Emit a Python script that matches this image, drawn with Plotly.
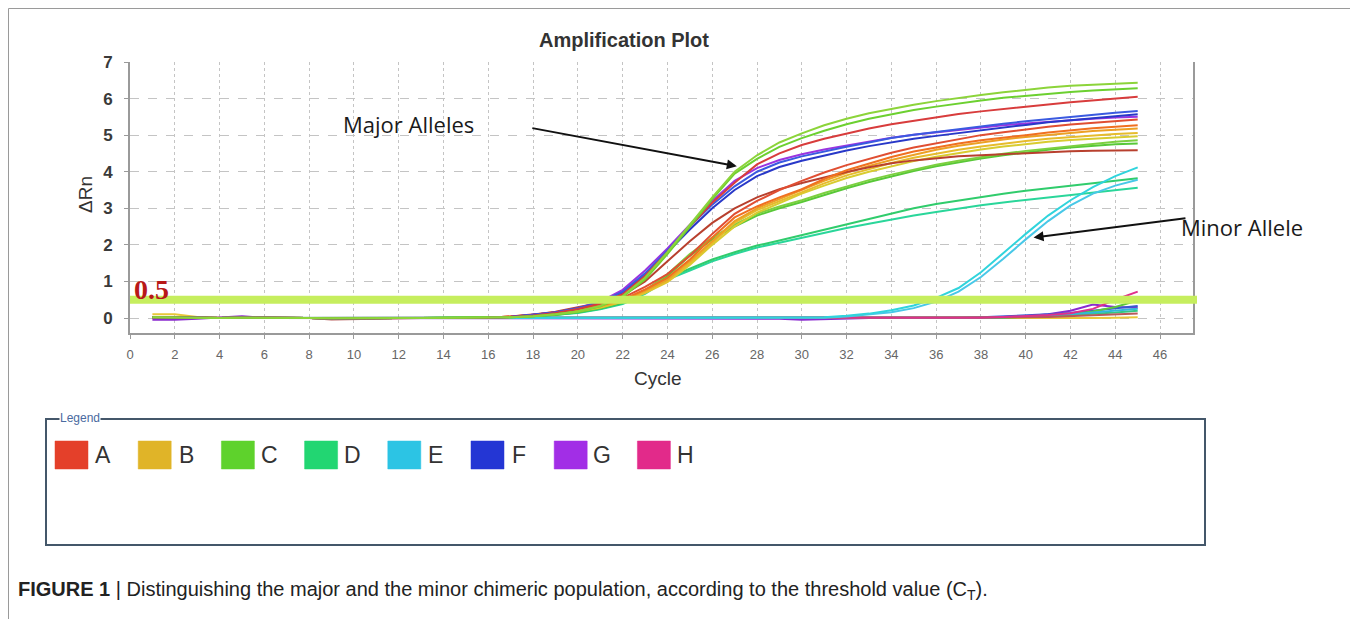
import plotly.graph_objects as go

# ---------------- data ----------------
CYCLES = list(range(1, 46))
THRESHOLD = 0.5
X_TICKS = list(range(0, 48, 2))
Y_TICKS = [0, 1, 2, 3, 4, 5, 6, 7]
ROWS = ["A", "B", "C", "D", "E", "F", "G", "H"]
ROW_COLORS = ["#e4402a", "#e0b428", "#5ed22c", "#22d672", "#2cc4e4", "#2436d4", "#a22ee6", "#e22a8a"]

BASE16 = [0.02, 0.01, 0.0, 0.0, 0.01, 0.0, 0.0, 0.0, -0.01, 0.0, 0.0, 0.0, 0.0, 0.0, 0.0, 0.01]

A_TOP = BASE16 + [0.03, 0.07, 0.14, 0.25, 0.4, 0.65, 1.15, 1.8, 2.5, 3.15, 3.7, 4.2, 4.5, 4.73, 4.9,
                  5.05, 5.18, 5.3, 5.4, 5.5, 5.58, 5.65, 5.72, 5.78, 5.84, 5.9, 5.95, 6.0, 6.05]
A_MID = BASE16 + [0.04, 0.09, 0.16, 0.26, 0.38, 0.55, 0.85, 1.2, 1.7, 2.3, 2.85, 3.2, 3.5, 3.75, 3.98,
                  4.18, 4.36, 4.52, 4.66, 4.78, 4.9, 5.0, 5.08, 5.16, 5.23, 5.29, 5.34, 5.39, 5.43]
A_ORANGE = BASE16 + [0.04, 0.08, 0.15, 0.24, 0.35, 0.5, 0.78, 1.1, 1.6, 2.2, 2.75, 3.05, 3.3, 3.52, 3.8,
                     4.04, 4.23, 4.4, 4.55, 4.67, 4.77, 4.86, 4.94, 5.0, 5.07, 5.14, 5.19, 5.23, 5.27]
A_LOW = BASE16 + [0.04, 0.09, 0.17, 0.3, 0.42, 0.62, 1.0, 1.55, 2.1, 2.6, 3.0, 3.3, 3.52, 3.69, 3.85,
                  3.99, 4.12, 4.23, 4.31, 4.37, 4.42, 4.45, 4.48, 4.51, 4.54, 4.56, 4.57, 4.58, 4.59]
B_1 = BASE16 + [0.03, 0.07, 0.13, 0.22, 0.33, 0.48, 0.75, 1.05, 1.55, 2.1, 2.65, 3.0, 3.25, 3.5, 3.75,
                3.97, 4.16, 4.32, 4.47, 4.6, 4.71, 4.8, 4.88, 4.95, 5.01, 5.07, 5.11, 5.15, 5.18]
B_2 = BASE16 + [0.03, 0.06, 0.12, 0.2, 0.3, 0.45, 0.7, 1.0, 1.5, 2.05, 2.6, 2.95, 3.2, 3.45, 3.68,
                3.9, 4.08, 4.24, 4.38, 4.5, 4.6, 4.69, 4.77, 4.84, 4.9, 4.95, 4.99, 5.03, 5.06]
B_3 = BASE16 + [0.03, 0.06, 0.11, 0.19, 0.29, 0.44, 0.68, 0.98, 1.45, 2.0, 2.5, 2.88, 3.15, 3.4, 3.62,
                3.83, 4.0, 4.15, 4.29, 4.41, 4.52, 4.61, 4.69, 4.76, 4.82, 4.87, 4.91, 4.94, 4.97]
C_TOP1 = BASE16 + [0.02, 0.05, 0.1, 0.18, 0.33, 0.6, 1.1, 1.8, 2.55, 3.3, 4.0, 4.45, 4.8, 5.05, 5.27,
                   5.45, 5.6, 5.72, 5.83, 5.93, 6.02, 6.1, 6.17, 6.24, 6.3, 6.35, 6.38, 6.41, 6.43]
C_TOP2 = BASE16 + [0.02, 0.05, 0.1, 0.18, 0.32, 0.58, 1.05, 1.75, 2.5, 3.25, 3.95, 4.35, 4.68, 4.92, 5.12,
                   5.3, 5.45, 5.58, 5.69, 5.78, 5.87, 5.95, 6.02, 6.08, 6.13, 6.18, 6.22, 6.26, 6.28]
C_LOW1 = BASE16 + [0.02, 0.05, 0.1, 0.17, 0.28, 0.45, 0.75, 1.2, 1.75, 2.2, 2.55, 2.85, 3.05, 3.22, 3.42,
                   3.6, 3.77, 3.92, 4.06, 4.19, 4.3, 4.4, 4.49, 4.57, 4.64, 4.7, 4.76, 4.82, 4.86]
C_LOW2 = BASE16 + [0.02, 0.05, 0.09, 0.16, 0.27, 0.43, 0.72, 1.15, 1.7, 2.15, 2.5, 2.8, 3.0, 3.17, 3.37,
                   3.55, 3.72, 3.88, 4.02, 4.15, 4.26, 4.36, 4.45, 4.53, 4.6, 4.66, 4.71, 4.75, 4.77]
D_1 = BASE16 + [0.02, 0.04, 0.08, 0.15, 0.25, 0.4, 0.7, 1.1, 1.35, 1.6, 1.8, 1.98, 2.12, 2.27, 2.42,
                2.57, 2.72, 2.87, 3.0, 3.12, 3.22, 3.31, 3.4, 3.48, 3.55, 3.62, 3.69, 3.76, 3.82]
D_2 = BASE16 + [0.02, 0.04, 0.08, 0.14, 0.24, 0.38, 0.66, 1.05, 1.3, 1.55, 1.75, 1.93, 2.06, 2.2, 2.33,
                2.46, 2.58, 2.7, 2.8, 2.9, 3.0, 3.08, 3.16, 3.23, 3.3, 3.37, 3.43, 3.5, 3.56]
E_1 = BASE16 + [0.0, 0.0, 0.0, 0.0, 0.0, 0.0, 0.0, 0.0, 0.0, 0.0, 0.0, 0.0, 0.0, 0.0,
                0.02, 0.06, 0.12, 0.21, 0.34, 0.55, 0.82, 1.25, 1.78, 2.3, 2.8, 3.22, 3.58, 3.88, 4.12]
E_2 = BASE16 + [0.0, 0.0, 0.0, 0.0, 0.0, 0.0, 0.0, 0.0, 0.0, 0.0, 0.0, 0.0, 0.0, 0.0,
                0.01, 0.04, 0.09, 0.16, 0.27, 0.45, 0.72, 1.12, 1.62, 2.15, 2.65, 3.08, 3.4, 3.62, 3.78]
F_1 = BASE16 + [0.03, 0.08, 0.15, 0.27, 0.43, 0.72, 1.22, 1.85, 2.5, 3.1, 3.6, 4.0, 4.25, 4.42, 4.56,
                4.68, 4.8, 4.92, 5.01, 5.09, 5.17, 5.25, 5.31, 5.38, 5.44, 5.5, 5.56, 5.61, 5.66]
F_2 = BASE16 + [0.03, 0.08, 0.15, 0.26, 0.42, 0.7, 1.18, 1.8, 2.42, 3.0, 3.5, 3.88, 4.13, 4.3, 4.45,
                4.58, 4.7, 4.81, 4.9, 4.98, 5.06, 5.14, 5.21, 5.28, 5.35, 5.41, 5.47, 5.52, 5.57]
G_1 = BASE16 + [0.03, 0.08, 0.15, 0.27, 0.45, 0.77, 1.3, 1.9, 2.55, 3.2, 3.75, 4.1, 4.32, 4.48, 4.61,
                4.72, 4.83, 4.93, 5.01, 5.08, 5.15, 5.21, 5.27, 5.32, 5.37, 5.41, 5.45, 5.48, 5.5]

# near-baseline (negative / late) wells
H_1 = [0.0, 0.0, 0.01, 0.0, 0.0, 0.0, 0.0, 0.0, 0.0, 0.0, 0.0, 0.0, 0.0, 0.0, 0.0,
       0.0, 0.0, 0.0, 0.0, 0.0, 0.0, 0.0, 0.0, 0.0, 0.0, 0.0, 0.0, 0.0, 0.0, 0.0,
       0.0, 0.0, 0.0, 0.0, 0.0, 0.0, 0.0, 0.01, 0.03, 0.05, 0.08, 0.13, 0.25, 0.5, 0.72]
B_FLAT = [0.1, 0.1, 0.03, 0.01, 0.0, 0.0, 0.0, 0.0, -0.02, 0.0, 0.0, 0.0, 0.0, 0.0, 0.0,
          0.0, 0.0, 0.0, 0.0, 0.0, 0.0, 0.0, 0.0, 0.0, 0.0, 0.0, 0.0, 0.0, 0.0, 0.0,
          0.0, 0.0, 0.0, 0.0, 0.0, 0.0, 0.0, 0.0, 0.0, 0.0, 0.0, 0.0, 0.0, 0.01, 0.02]
D_FLAT = [0.0, 0.0, 0.0, 0.0, 0.0, 0.0, 0.0, 0.0, 0.0, 0.0, -0.01, -0.01, -0.01, -0.01, -0.01,
          -0.01, -0.01, -0.01, -0.01, -0.01, -0.01, -0.01, -0.01, -0.01, -0.01, -0.01, -0.01, -0.01, -0.01, -0.01,
          0.0, 0.0, 0.0, 0.0, 0.0, 0.0, 0.0, 0.01, 0.02, 0.03, 0.05, 0.08, 0.11, 0.15, 0.2]
G_FLAT = [-0.05, -0.05, -0.02, 0.02, 0.05, 0.0, 0.0, 0.0, 0.0, 0.0, -0.02, -0.02, 0.0, 0.0, 0.0,
          0.0, 0.0, 0.0, 0.0, 0.0, 0.0, 0.0, 0.0, 0.0, 0.0, 0.0, 0.0, 0.0, -0.02, -0.05,
          -0.03, 0.0, 0.0, 0.0, 0.0, 0.0, 0.0, 0.01, 0.03, 0.05, 0.1, 0.2, 0.37, 0.3, 0.28]
F_FLAT = [0.0, 0.0, 0.0, 0.0, 0.0, 0.0, 0.0, 0.0, 0.0, 0.0, -0.02, -0.02, 0.0, 0.0, 0.0,
          0.0, 0.0, 0.0, 0.0, 0.0, 0.0, 0.0, 0.0, 0.0, 0.0, 0.0, 0.0, 0.0, 0.0, 0.0,
          0.0, 0.0, 0.0, 0.0, 0.0, 0.0, 0.0, 0.02, 0.04, 0.07, 0.1, 0.14, 0.2, 0.28, 0.33]
C_FLAT = [0.0, 0.0, 0.0, 0.0, 0.0, 0.0, 0.0, 0.0, 0.0, 0.0, 0.0, 0.0, 0.0, 0.0, 0.0,
          0.0, 0.0, 0.0, 0.0, 0.0, 0.0, 0.0, 0.0, 0.0, 0.0, 0.0, 0.0, 0.0, 0.0, 0.0,
          0.0, 0.0, 0.0, 0.0, 0.0, 0.0, 0.0, 0.0, 0.01, 0.03, 0.05, 0.1, 0.18, 0.3, 0.48]
E_FLAT = [0.0, 0.0, 0.0, 0.0, 0.0, 0.0, 0.0, 0.0, 0.0, 0.0, 0.0, 0.0, 0.0, 0.0, 0.0,
          0.0, 0.0, 0.0, 0.0, 0.0, 0.0, 0.0, 0.0, 0.0, 0.0, 0.0, 0.0, 0.0, 0.0, 0.0,
          0.0, 0.0, 0.0, 0.0, 0.0, 0.0, 0.0, 0.01, 0.02, 0.04, 0.07, 0.1, 0.15, 0.2, 0.25]
A_FLAT = [0.0, 0.0, 0.0, 0.0, 0.0, 0.0, 0.0, 0.0, -0.04, -0.03, 0.0, 0.0, 0.0, 0.0, 0.0,
          0.0, 0.0, 0.0, 0.0, 0.0, 0.0, 0.0, 0.0, 0.0, 0.0, 0.0, 0.0, 0.0, 0.0, 0.0,
          0.0, 0.0, 0.0, 0.0, 0.0, 0.0, 0.0, 0.0, 0.01, 0.02, 0.03, 0.05, 0.07, 0.1, 0.12]

# (values, colour) in drawing order
CURVES = [
    (B_FLAT, "#e8c838"), (D_FLAT, "#34c884"), (G_FLAT, "#8a2ad0"), (F_FLAT, "#3858d0"),
    (C_FLAT, "#5cc83c"), (E_FLAT, "#30b8d8"), (A_FLAT, "#b85a5a"), (H_1, "#e0308a"),
    (D_2, "#2ad69a"), (D_1, "#30cc6c"),
    (E_2, "#48c8e8"), (E_1, "#30d4dc"),
    (C_LOW2, "#58c838"), (C_LOW1, "#7cd040"),
    (B_3, "#d8cc30"), (B_2, "#e6bc2c"), (B_1, "#eca024"),
    (A_LOW, "#b8402e"), (A_ORANGE, "#f07020"), (A_MID, "#e04e32"),
    (G_1, "#9a34e0"), (F_2, "#2838c8"), (F_1, "#3a5ae0"),
    (A_TOP, "#d83c3c"),
    (C_TOP2, "#6cd030"), (C_TOP1, "#8cd43a"),
]

# ---------------- layout geometry (reference pixels) ----------------
# the page body has an 8 px margin, so the figure starts at (8, 8)
VIEW_W, VIEW_H, OFF = 1358, 619, 8
FIG_W, FIG_H = VIEW_W - OFF, VIEW_H - OFF
L, R, T, B = 130, 1193, 62, 333


def fx(px):
    return (px - L) / (R - L)


def fy(py):
    return (B - py) / (B - T)


fig = go.Figure()
for vals, col in CURVES:
    fig.add_trace(go.Scatter(x=CYCLES, y=vals, mode="lines",
                             line=dict(color=col, width=2), showlegend=False,
                             hoverinfo="skip"))

shapes = []
# threshold band
shapes.append(dict(type="line", xref="paper", yref="y", x0=0, x1=fx(1197),
                   y0=THRESHOLD, y1=THRESHOLD, line=dict(color="#c6ee5e", width=8),
                   layer="above"))
# outer frame
shapes.append(dict(type="rect", xref="paper", yref="paper",
                   x0=fx(8.5), x1=fx(1352), y0=fy(640), y1=fy(8.5),
                   line=dict(color="#9a9a9a", width=1), fillcolor="rgba(0,0,0,0)"))
# legend box
shapes.append(dict(type="rect", xref="paper", yref="paper",
                   x0=fx(46), x1=fx(1205), y0=fy(545), y1=fy(419),
                   line=dict(color="#44576a", width=2), fillcolor="rgba(0,0,0,0)"))

annotations = []
# legend swatches and letters
for i, (row, col) in enumerate(zip(ROWS, ROW_COLORS)):
    left = 55 + 83.2 * i
    shapes.append(dict(type="rect", xref="paper", yref="paper",
                       x0=fx(left), x1=fx(left + 33), y0=fy(469), y1=fy(441),
                       line=dict(color=col, width=0.5), fillcolor=col))
    annotations.append(dict(xref="paper", yref="paper", x=fx(left + 48), y=fy(455),
                            text=row, showarrow=False, xanchor="center", yanchor="middle",
                            font=dict(family="Liberation Sans", size=23, color="#333333")))
annotations.append(dict(xref="paper", yref="paper", x=fx(59), y=fy(418), text="Legend",
                        showarrow=False, xanchor="left", yanchor="middle", bgcolor="white",
                        borderpad=0,
                        font=dict(family="Liberation Sans", size=12, color="#4a6aa0")))


def label(px, py, text, font, **kw):
    d = dict(xref="paper", yref="paper", x=fx(px), y=fy(py), text=text, showarrow=False,
             xanchor="center", yanchor="middle", font=font)
    d.update(kw)
    return d


# titles
annotations.append(label(624, 40, "Amplification Plot",
                         dict(family="Liberation Sans", size=20, color="#333333", weight="bold")))
annotations.append(label(658, 378, "Cycle",
                         dict(family="Liberation Sans", size=19, color="#333333")))
annotations.append(label(85, 195, "ΔRn",
                         dict(family="Liberation Sans", size=19, color="#333333"), textangle=-90))
# threshold value label
annotations.append(dict(xref="paper", yref="y", x=fx(132), y=THRESHOLD, text=str(THRESHOLD),
                        showarrow=False, xanchor="left", yanchor="bottom", yshift=-7,
                        font=dict(family="Liberation Serif", size=28, color="#b81818", weight="bold")))
# callouts
annotations.append(label(408, 124, "Major Alleles", dict(family="Open Sans", size=22, color="#1a1a1a")))
annotations.append(label(1242, 227, "Minor Allele", dict(family="Open Sans", size=22, color="#1a1a1a")))
annotations.append(dict(x=27.1, y=4.15, ax=17.9, ay=5.2, xref="x", yref="y", axref="x", ayref="y",
                        text="", showarrow=True, arrowhead=2, arrowsize=1, arrowwidth=2,
                        arrowcolor="#111111"))
annotations.append(dict(x=40.35, y=2.2, ax=47.2, ay=2.73, xref="x", yref="y", axref="x", ayref="y",
                        text="", showarrow=True, arrowhead=2, arrowsize=1, arrowwidth=2,
                        arrowcolor="#111111"))
# caption
annotations.append(dict(xref="paper", yref="paper", x=fx(16), y=fy(590), xanchor="left",
                        yanchor="middle", showarrow=False,
                        text="<b>FIGURE 1</b> | Distinguishing the major and the minor chimeric "
                             "population, according to the threshold value (C<sub>T</sub>).",
                        font=dict(family="Liberation Sans", size=20, color="#222222")))

fig.update_layout(
    width=FIG_W, height=FIG_H,
    margin=dict(l=L - OFF, r=VIEW_W - R, t=T - OFF, b=VIEW_H - B, pad=0),
    paper_bgcolor="white", plot_bgcolor="white",
    shapes=shapes, annotations=annotations, showlegend=False,
    xaxis=dict(range=[0, 47.47], tickmode="array", tickvals=X_TICKS,
               ticktext=[str(v) for v in X_TICKS],
               showgrid=True, gridcolor="#c4c4c4", griddash="dot", gridwidth=1,
               zeroline=False, showline=True, linecolor="#9a9a9a", linewidth=2,
               ticks="outside", ticklen=4, tickcolor="#9a9a9a", ticklabelstandoff=4,
               tickfont=dict(family="Liberation Sans", size=13, color="#666666")),
    yaxis=dict(range=[-0.41, 7.0], tickmode="array", tickvals=Y_TICKS,
               showgrid=True, gridcolor="#c4c4c4", griddash="dash", gridwidth=1,
               zeroline=False, showline=True, linecolor="#9a9a9a", linewidth=2, mirror=True,
               ticks="outside", ticklen=4, tickcolor="#9a9a9a", ticklabelstandoff=8,
               tickfont=dict(family="Liberation Sans", size=17, color="#3a3a3a", weight="bold")),
)

fig.write_html("out.html")
